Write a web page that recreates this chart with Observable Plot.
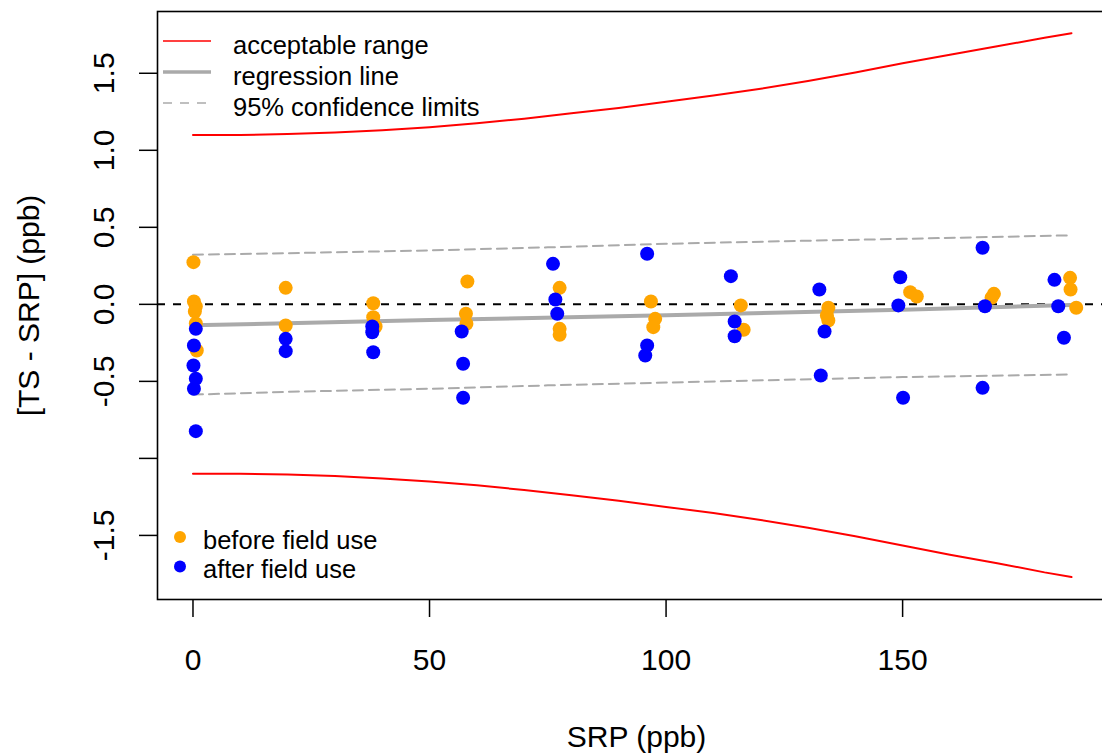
<!DOCTYPE html>
<html><head><meta charset="utf-8">
<script src="https://cdn.jsdelivr.net/npm/d3@7"></script>
<script src="https://cdn.jsdelivr.net/npm/@observablehq/plot@0.6"></script>
<style>
html,body{margin:0;padding:0;overflow:hidden;background:#fff;width:1102px;height:754px}
#chart{width:1102px;height:754px;overflow:hidden;position:relative}
#chart svg{max-width:none !important;width:1115px;height:754px;display:block}
</style></head><body><div id="chart"></div>
<script>
// ---- data ----
const beforeSRP  = [0.1, 0.2, 0.6, 0.4, 0.6, 0.8, 19.6, 19.6, 38.1, 38.1, 38.6, 58.0, 57.7, 57.8, 77.5, 77.5, 77.5, 96.8, 97.7, 97.3, 115.8, 116.4, 134.3, 134.0, 134.3, 151.6, 153.0, 169.3, 168.8, 185.4, 185.5, 186.7];
const beforeDiff = [0.274, 0.018, -0.014, -0.046, -0.124, -0.30, 0.107, -0.137, 0.007, -0.083, -0.144, 0.148, -0.061, -0.126, 0.107, -0.159, -0.198, 0.018, -0.094, -0.148, -0.007, -0.165, -0.022, -0.072, -0.105, 0.079, 0.051, 0.068, 0.043, 0.172, 0.096, -0.022];
const afterSRP   = [0.6, 0.2, 0.1, 0.6, 0.2, 0.6, 19.6, 19.6, 37.9, 37.9, 38.1, 56.8, 57.1, 57.1, 76.1, 76.6, 77.0, 96.0, 96.0, 95.6, 113.7, 114.5, 114.5, 132.4, 133.5, 132.7, 149.5, 149.1, 150.1, 166.9, 167.4, 166.9, 182.1, 182.9, 184.1];
const afterDiff  = [-0.159, -0.267, -0.397, -0.483, -0.548, -0.823, -0.224, -0.304, -0.144, -0.181, -0.311, -0.176, -0.386, -0.606, 0.263, 0.031, -0.061, 0.328, -0.267, -0.332, 0.183, -0.111, -0.207, 0.096, -0.176, -0.462, 0.176, -0.007, -0.606, 0.367, -0.012, -0.542, 0.159, -0.012, -0.217];

const rangeSRP   = [0, 10, 20, 30, 40, 50, 60, 70, 80, 90, 100, 110, 120, 130, 140, 150, 160, 170, 180, 185.7];
const rangeUpper = [1.10, 1.10, 1.105, 1.115, 1.13, 1.15, 1.175, 1.205, 1.24, 1.275, 1.315, 1.355, 1.40, 1.45, 1.505, 1.565, 1.62, 1.675, 1.73, 1.76];
const rangeLower = [-1.10, -1.10, -1.105, -1.115, -1.13, -1.15, -1.175, -1.205, -1.24, -1.275, -1.315, -1.355, -1.40, -1.45, -1.505, -1.565, -1.625, -1.68, -1.74, -1.77];

const regSRP  = [0, 50, 100, 150, 185.5];
const regDiff = [-0.136, -0.102, -0.07, -0.035, -0.004];

const confSRP   = [0, 20, 50, 75, 100, 125, 150, 185.4];
const confUpper = [0.322, 0.332, 0.35, 0.37, 0.393, 0.41, 0.425, 0.448];
const confLower = [-0.586, -0.568, -0.548, -0.526, -0.508, -0.49, -0.472, -0.455];

const xTicks = [0, 50, 100, 150];
const yTicks = [-1.5, -1, -0.5, 0, 0.5, 1, 1.5];
const yTickLabels = ["-1.5", "", "-0.5", "0.0", "0.5", "1.0", "1.5"];

const xTitle = "SRP (ppb)";
const yTitle = "[TS - SRP] (ppb)";
const lineLegend = ["acceptable range", "regression line", "95% confidence limits"];
const pointLegend = ["before field use", "after field use"];

// ---- tables ----
const before = beforeSRP.map((x, i) => ({x, y: beforeDiff[i]}));
const after = afterSRP.map((x, i) => ({x, y: afterDiff[i]}));
const range = rangeSRP.map((x, i) => ({x, up: rangeUpper[i], lo: rangeLower[i]}));
const reg = regSRP.map((x, i) => ({x, y: regDiff[i]}));
const conf = confSRP.map((x, i) => ({x, up: confUpper[i], lo: confLower[i]}));

const font = "'Liberation Sans', Arial, Helvetica, sans-serif";
const grey = "#aaaaaa";

const plot = Plot.plot({
  width: 1115, height: 754,
  marginLeft: 157, marginRight: 0, marginTop: 11, marginBottom: 155,
  style: {fontFamily: font, background: "white", color: "black", maxWidth: "none"},
  x: {domain: [-7.5, 195]},
  y: {domain: [-1.916, 1.901]},
  marks: [
    Plot.ruleY([0], {stroke: "black", strokeWidth: 2, strokeDasharray: "8,8"}),
    Plot.line(range, {x: "x", y: "up", stroke: "red", strokeWidth: 2}),
    Plot.line(range, {x: "x", y: "lo", stroke: "red", strokeWidth: 2}),
    Plot.line(conf, {x: "x", y: "up", stroke: grey, strokeWidth: 2, strokeDasharray: "10,6"}),
    Plot.line(conf, {x: "x", y: "lo", stroke: grey, strokeWidth: 2, strokeDasharray: "10,6"}),
    Plot.line(reg, {x: "x", y: "y", stroke: grey, strokeWidth: 4}),
    Plot.dot(before, {x: "x", y: "y", r: 7, fill: "orange", stroke: "none"}),
    Plot.dot(after, {x: "x", y: "y", r: 7, fill: "blue", stroke: "none"}),
    Plot.frame({stroke: "black", strokeWidth: 1.6}),
    Plot.axisX(xTicks, {tickSize: 18, tickPadding: 31, fontSize: 30, tickFormat: d => String(d), label: null, strokeWidth: 1.5}),
    Plot.axisY(yTicks, {tickSize: 18, tickFormat: () => "", label: null, strokeWidth: 1.5}),
    Plot.text(yTicks, {y: d => d, text: (d, i) => yTickLabels[i], frameAnchor: "left", dx: -44, rotate: -90,
      lineAnchor: "bottom", textAnchor: "middle", fontSize: 30, fill: "black"}),
    Plot.text([xTitle], {frameAnchor: "bottom", dy: 147, lineAnchor: "bottom", fontSize: 30, fill: "black"}),
    Plot.text([yTitle], {frameAnchor: "left", dx: -119, rotate: -90, lineAnchor: "bottom", textAnchor: "middle", fontSize: 30, fill: "black"})
  ]
});
document.getElementById("chart").appendChild(plot);

// ---- legends (inside the plot, top-left and bottom-left) ----
const svg = d3.select(plot);
const lg = svg.append("g").attr("font-family", font).attr("font-size", 25.5)
  .attr("fill", "black").attr("text-anchor", "start");
const lineStyles = [
  {stroke: "red", width: 1.5, dash: null, x2: 211},
  {stroke: grey, width: 3.5, dash: null, x2: 211},
  {stroke: grey, width: 1.5, dash: "9,8", x2: 206}
];
lineLegend.forEach((label, i) => {
  const ly = 41 + i * 31;
  const s = lineStyles[i];
  lg.append("line").attr("x1", 163).attr("x2", s.x2).attr("y1", ly).attr("y2", ly)
    .attr("stroke", s.stroke).attr("stroke-width", s.width).attr("stroke-dasharray", s.dash);
  lg.append("text").attr("x", 233).attr("y", ly + 12.5).attr("text-anchor", "start").text(label);
});
const pointColors = ["orange", "blue"];
pointLegend.forEach((label, i) => {
  const py = 537 + i * 29.5;
  lg.append("circle").attr("cx", 180).attr("cy", py).attr("r", 6).attr("fill", pointColors[i]);
  lg.append("text").attr("x", 203).attr("y", py + 11.5).attr("text-anchor", "start").text(label);
});
</script></body></html>
